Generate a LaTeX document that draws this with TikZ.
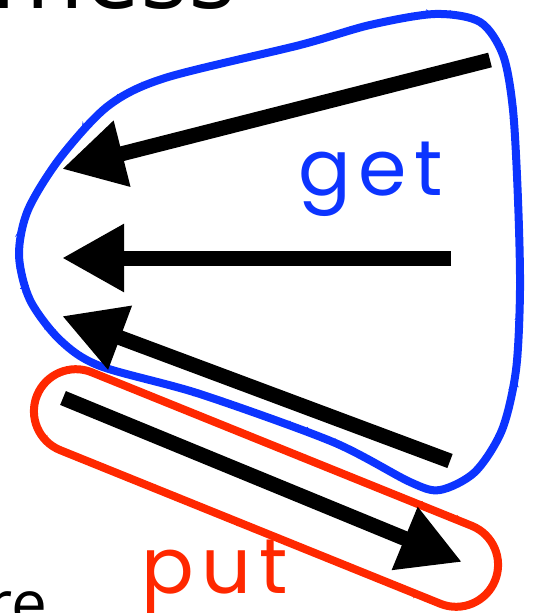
\documentclass[tikz,border=0pt]{standalone}
\usepackage{fontspec}
\setmainfont{Open Sans}
\newfontfamily\popfont{Poppins}[LetterSpace=10]
\usetikzlibrary{arrows.meta,decorations.pathmorphing}
\definecolor{getblue}{RGB}{12,52,255}
\definecolor{putred}{RGB}{255,40,0}
\tikzset{
  bigarrow/.style={line width=15pt,-{Triangle[length=62pt,width=64pt]}},
  pencil/.style={line width=8pt},
  roughline/.style={line width=3pt,decorate,decoration={random steps,segment length=3pt,amplitude=2pt}},
}
\begin{document}
\begin{tikzpicture}[x=1pt,y=-1pt]
\useasboundingbox (0,0) rectangle (534,613);
% text fragments
\node[anchor=base east,inner sep=0pt,font=\fontsize{100}{100}\selectfont] (mess) at (236,9) {mess};
\node[anchor=base west,inner sep=0pt,font=\fontsize{64}{64}\selectfont] (re) at (-14,626) {re};
% red put box
\begin{scope}[shift={(266,488)},rotate=-22]
\def\stadium{(-205,-42) -- (205,-42) arc(-90:90:42) -- (-205,42) arc(90:270:42) -- cycle}
\draw[putred,pencil] \stadium;
\draw[putred,roughline] \stadium;
\end{scope}
% blue get blob
\def\blob{(165,78) (300,45) (370,25) (435,14) (480,22) (503,55) (513,110) (518,200) (520,290) (516,370) (502,430) (475,472) (440,490) (410,482) (333,442) (200,394) (100,366) (60,340) (30,300) (19,255) (28,210) (60,158) (108,106)}
\draw[getblue,pencil] plot[smooth cycle] coordinates {\blob};
\draw[getblue,roughline] plot[smooth cycle] coordinates {\blob};
% labels
\node[anchor=base west,inner sep=0pt,text=getblue,font=\popfont\fontsize{78}{80}\selectfont] (get) at (298,195) {get};
\node[anchor=base west,inner sep=0pt,text=putred,font=\popfont\fontsize{78}{80}\selectfont] (put) at (141,593) {put};
% arrows
\coordinate (a1s) at (490,60);  \coordinate (a1e) at (62,169);
\coordinate (a2s) at (451,258); \coordinate (a2e) at (62,258);
\coordinate (a3s) at (450,461); \coordinate (a3e) at (62,316);
\coordinate (a4s) at (63,398);  \coordinate (a4e) at (462,562);
\draw[bigarrow] (a1s) -- (a1e);
\draw[bigarrow] (a2s) -- (a2e);
\draw[bigarrow] (a3s) -- (a3e);
\draw[bigarrow] (a4s) -- (a4e);
\end{tikzpicture}
\end{document}
